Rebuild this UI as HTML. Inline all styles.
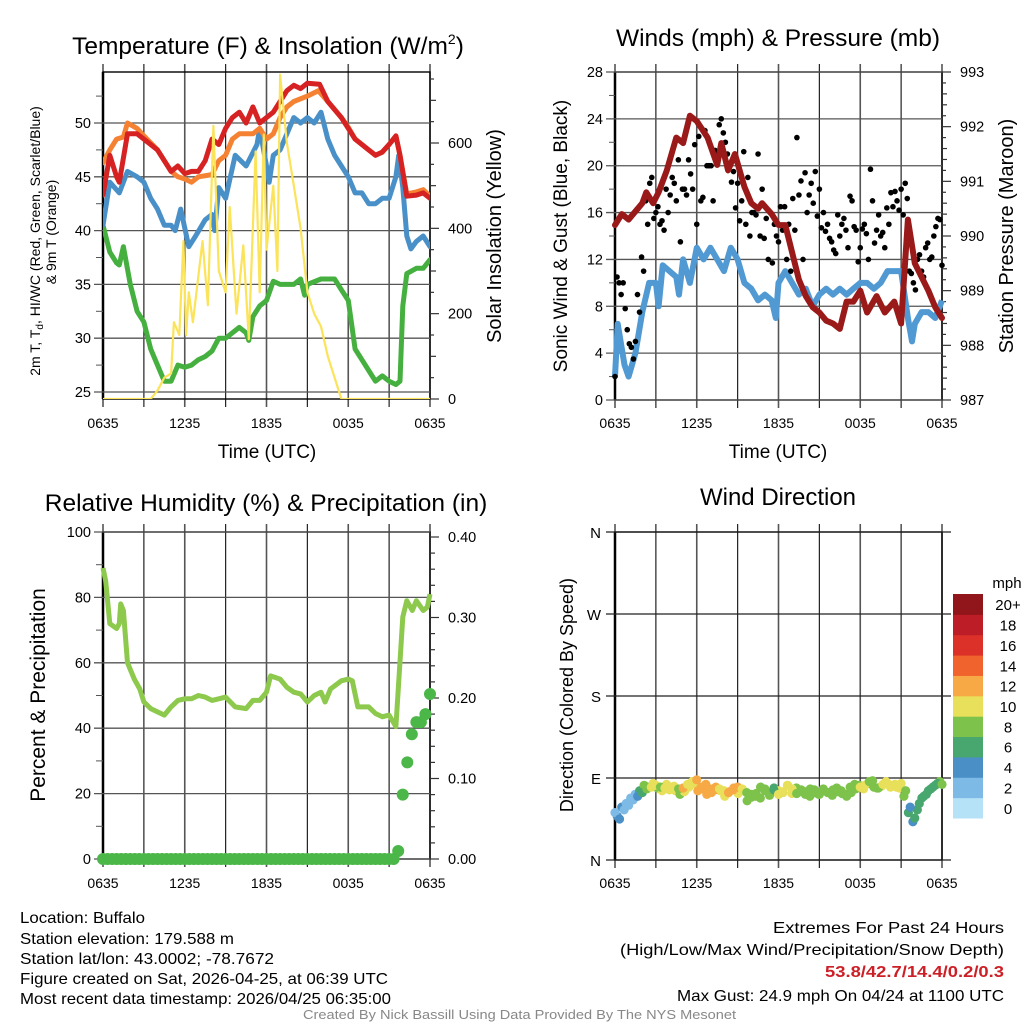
<!DOCTYPE html>
<html><head><meta charset="utf-8"><style>
html,body{margin:0;padding:0;background:#fff;}
svg{display:block;font-family:"Liberation Sans",sans-serif;}
</style></head><body>
<svg id="fig" width="1024" height="1024" viewBox="0 0 1024 1024">
<g id="layer"></g>
</svg>
<script>
// ---------- DATA ----------
const timeTicks = ["0635","1235","1835","0035","0635"];
// Temperature panel
const redH = [0,0.5,1,1.2,1.8,2.5,3,4,4.5,5,5.5,6,6.5,7,7.5,8,8.5,9,9.5,10,10.5,11,11.5,12,12.5,13,13.5,14,14.5,15,15.9,16.5,17.5,18,18.5,19.5,20,20.5,21,21.5,21.8,22.3,23,23.5,24];
const redV = [43.3,47,45,44.5,49,49,48.5,47.5,46.5,45.5,46,45.3,45.5,45.5,46.5,48.5,48,49.5,50.5,51,50,51.5,50,50.5,51,52,53,53.5,53.2,53.7,53.6,52,50.5,49.5,48.5,47.5,47,47.3,48,48.8,47,43.2,43.3,43.5,43];
const oraH = [0,0.5,1,1.5,1.8,2.5,3,4,5,5.5,6,6.5,7,8,8.5,9,9.5,10,11,11.5,12,12.5,13,13.5,14,15,15.8,16.5,17.5,18,18.5,19.5,20,20.5,21,21.5,21.8,22.3,23,23.5,24];
const oraV = [46.3,47.5,48.5,48.7,50,49.5,48.8,47.5,45.5,45,44.8,44.5,45,45.2,46.5,47,48.5,49,49,49.5,48.5,49,50.5,51.5,52,52.5,53,52,50.5,49.6,48.5,47.5,47,47.3,48,48.8,47,43.4,43.6,43.8,43.2];
const bluH = [0,0.5,1.2,1.8,2.5,3,3.5,4,4.5,5,5.3,5.7,6.3,6.8,7.5,8,8.2,8.5,9,9.7,10.5,11.3,11.5,12,12.2,12.5,13,13.5,14,14.5,15,15.5,16,16.5,17,17.5,18,18.5,19,19.5,20,20.5,21,21.5,21.7,22,22.3,22.6,23,23.5,24];
const bluV = [40.5,44.5,43.5,45.5,45,44.5,43,42,40.5,40.5,40,42,38.5,39.5,41,41.5,40,44,43,47,46,48,49.5,46,44.5,47,47.5,49,50.5,50,50.5,50,51,48.5,47,46,45,43.5,43.5,42.5,42.5,43,43,45,47,44,39.5,38.3,39,39.5,38.5];
const grnH = [0,0.5,1,1.2,1.5,2,2.5,3,3.5,4,4.5,5,5.5,6,6.5,7,7.5,8,8.5,9,9.5,10,10.5,10.7,11,11.5,12,12.5,13,14,14.5,14.8,15,16,17,17.5,18,18.5,19,19.5,20,20.5,21,21.5,21.8,22,22.3,23,23.5,24];
const grnV = [40.5,38,37,36.8,38.5,35,32.5,31.5,29,27.5,26,26,27.5,27.3,27.5,28,28.3,28.8,30,30,30.5,31,30.5,29.8,32,33,33.5,35.3,35,35,35.5,34,35,35.5,35.5,34.5,33.5,29,28,27,26,26.5,26,25.7,26,33,36,36.5,36.5,37.3];
const solH = [0,3.5,4,4.5,5,5.2,5.6,5.9,6.1,6.3,6.6,7.3,7.7,8.1,8.5,9,9.3,9.8,10.3,10.7,11.2,11.5,11.8,12,12.5,12.8,13,13.5,14,14.5,15,15.5,16,16.5,17,17.5,24];
const solV = [0,0,20,50,60,180,150,370,150,250,180,370,220,640,300,250,450,200,360,140,580,250,620,350,500,300,760,600,500,400,250,200,170,100,50,0,0];
const tempTicks = [25,30,35,40,45,50];
const solTicks = [0,200,400,600];
// Wind panel
const windH = [0,0.2,0.7,1,1.5,2,2.5,3,3.2,3.5,4,4.5,4.7,5,5.5,6,6.5,7,7.5,8,8.5,9,9.5,10,10.5,11,11.5,11.8,12,12.5,13,13.5,14,14.5,15,15.5,16,16.5,17,17.5,18,18.5,19,19.5,20,20.5,21,21.5,21.8,22,22.5,23,23.5,24];
const windV = [2,6.5,3,2,4,7.5,10,10,8,11.5,11,10.5,9,12,10,13,12,13,12,11,13,12,10,9.5,8.5,9,8.5,7,10,11,10,9,9.5,8,9,9.5,9,9.5,9,9.5,10,10,9.5,10,11,11,11,7,5,6.5,7.5,7.5,7,8.5];
const presH = [0,0.5,1,2,2.3,2.8,3.2,3.8,4.5,5,5.5,6,6.8,7.5,7.8,8.3,8.8,9.5,10,10.5,10.8,11.5,12,12.5,13,13.5,14,14.5,15,15.5,16,16.5,17,17.5,18,18.5,19.2,19.8,20.5,21,21.5,22,23,23.5,24];
const presV = [990.2,990.4,990.3,990.6,990.8,990.6,990.8,991.2,991.8,991.7,992.2,992.1,991.8,991.3,991.7,991.2,991.5,990.9,990.6,990.5,990.6,990.4,990.2,990.2,989.7,989.2,988.9,988.7,988.6,988.45,988.4,988.3,988.8,988.8,989.0,988.6,988.9,988.6,988.8,988.4,990.3,989.5,989.0,988.7,988.5];
const gustV = [2,10,10,6,4.5,5,7.5,11,15,19,16,15,14.5,16,19,17,13.5,18,20.5,18,15,17,23,20,17,21,24,22,20,19.5,18.5,17,15,14,16,21,18,15.5,16,15,13.5,14.5,12,11,14.5,17.5,12,16,18.5,19.5,18,16,15,13.5,12.5,14,15.5,13,17,14.5,13,15,12,17,14.5,14,13,15,16.5,17,18,18.5,11,10,12,11,13,12,14,15.5,11.5];
const gustV2 = [10.5,9,7.8,4.8,3.5,9,12.2,17,18.5,15.5,16.5,15.3,18,17.5,18.5,20.5,18,17.5,19.3,21.8,22.5,17.3,20,20,21.3,23.5,22.8,21,18.6,16.4,15.3,21.2,19,16,15.8,14,13.8,12,11.7,14,16.5,16.5,15,17.2,22.4,18.7,19.4,17.5,16.8,15.7,14.7,14.4,13.8,12.8,15.8,15,14.5,17.4,14.8,11.8,14.6,14.2,19.7,13.4,15.8,14.3,16.4,17.7,17.8,16.2,15.8,17.2,10.8,9.4,12.4,10.5,13.4,12.2,14.8,15.4];
const windTicks = [0,4,8,12,16,20,24,28];
const presTicks = [987,988,989,990,991,992,993];
// RH panel
const rhH = [0,0.2,0.5,1,1.2,1.3,1.5,1.8,2.3,2.7,3,3.5,4,4.5,5,5.5,6,6.5,7,7.5,8,8.5,9,9.7,10.5,11,11.5,12,12.3,13,13.5,14,14.5,15,15.5,16,16.3,16.7,17.5,18,18.3,18.7,19.5,20,20.5,21,21.5,22,22.3,22.7,23,23.5,23.8,24];
const rhV = [89,85,72,70.5,72,78,76,60,55,52,48,46,45,44,46.5,48.5,49,49,50,49.5,48.5,49,49.5,46.5,46,48.5,48.5,51,56,55,52.5,51,50.5,48,50,51,48,52,54.5,55,54.5,46.5,46.5,44.5,43.5,44,40.5,74,79,76,79,76,77,81];
const precipV = [0,0,0,0,0,0,0,0,0,0,0,0,0,0,0,0,0,0,0,0,0,0,0,0,0,0,0,0,0,0,0,0,0,0,0,0,0,0,0,0,0,0,0,0,0,0,0,0,0,0,0,0,0,0,0,0,0,0,0,0,0,0,0,0,0,0.01,0.08,0.12,0.155,0.17,0.17,0.18,0.205];
const rhTicks = [0,20,40,60,80,100];
const prTicks = ["0.00","0.10","0.20","0.30","0.40"];
// Direction panel
const dirV = [52,45,55,60,66,70,74,78,80,82,80,79,77,81,78,79,83,86,88,80,83,78,77,78,76,74,77,80,78,74,72,70,68,78,73,77,72,75,82,78,73,77,75,78,74,72,76,74,77,75,73,70,74,78,80,82,86,80,79,83,84,82,80,84,76,58,46,62,70,76,80,84,83];
const dirV2 = [48,58,62,68,72,76,82,80,84,79,76,83,80,76,72,75,80,84,76,78,72,74,80,76,70,75,79,73,77,65,69,73,80,76,71,79,76,74,82,73,79,75,72,70,77,72,78,74,71,79,76,72,80,83,82,78,84,87,79,81,86,80,83,79,70,52,42,55,68,72,78,82,86];
const dirTicks = ["N","E","S","W","N"];
const cbLabels = ["0","2","4","6","8","10","12","14","16","18","20+"];
const cbColors = ["#b5e2f7","#7dbbe6","#4a8fc6","#48a66f","#7dc24a","#e8e05a","#f6a944","#f1632c","#dc3128","#bc1d26","#91161b"];

// ---------- HELPERS ----------
const NS="http://www.w3.org/2000/svg";
const root=document.getElementById('layer');
function mk(tag,attrs,parent){const e=document.createElementNS(NS,tag);for(const k in attrs)e.setAttribute(k,attrs[k]);(parent||root).appendChild(e);return e;}
function txt(s,attrs,parent){const e=mk('text',attrs,parent);e.textContent=s;return e;}
function lin(d0,d1,r0,r1){return v=>r0+(v-d0)/(d1-d0)*(r1-r0);}
function interp(H,V,h){for(let i=1;i<H.length;i++){if(h<=H[i]){const t=(h-H[i-1])/(H[i]-H[i-1]);return V[i-1]+t*(V[i]-V[i-1]);}}return V[V.length-1];}
function pathOf(H,V,sx,sy){return H.map((h,i)=>(i?'L':'M')+sx(h).toFixed(1)+','+sy(V[i]).toFixed(1)).join('');}

function frame(x0,y0,x1,y1,name,g){
  for(let k=0;k<=8;k++){const x=x0+k*(x1-x0)/8;
    const l=mk('line',{x1:x,y1:y0-8,x2:x,y2:y1+8,stroke:k%2?'#222':'#555','stroke-width':k%2?1.2:1.6},g);
    }
  const r=mk('rect',{x:x0,y:y0,width:x1-x0,height:y1-y0,fill:'none',stroke:'#000','stroke-width':1.4},g);
  
  mk('line',{x1:x0,y1:y0,x2:x0,y2:y1,stroke:'#000','stroke-width':2.5},g);
}
function xLabels(x0,x1,y,g){timeTicks.forEach((t,i)=>{const e=txt(t,{x:x0+i*(x1-x0)/4,y:y,'font-size':14,'text-anchor':'middle'},g);
  });}
function hgrid(x0,x1,y,g,labelTxt,dark){const l=mk('line',{x1:x0-9,y1:y,x2:x1,y2:y,stroke:dark?'#222':'#555','stroke-width':1.3},g);
  
  const e=txt(labelTxt,{x:x0-12,y:y+5,'font-size':14.5,'text-anchor':'end'},g);
  }
function rtick(x1,y,g,labelTxt,len){mk('line',{x1:x1,y1:y,x2:x1+(len||9),y2:y,stroke:'#333','stroke-width':1.2},g);
  if(labelTxt!==null){const e=txt(labelTxt,{x:x1+18,y:y+5,'font-size':14.5},g);
  }}
function vtitle(s,x,y,size,g,name){const e=txt(s,{x:x,y:y,'font-size':size,'text-anchor':'middle',transform:`rotate(-90 ${x} ${y})`},g);
  return e;}

// ---------- PANEL 1: TEMPERATURE ----------
(function(){
const g=mk('g',{});
const x0=103,x1=430,y0=72,y1=399;
const sx=lin(0,24,x0,x1), sy=lin(25,50,392,123), sr=lin(0,600,399,143);
const t=txt('',{x:268,y:54,'font-size':24.5,'text-anchor':'middle'},g);

t.textContent='Temperature (F) & Insolation (W/m';
const sup=mk('tspan',{'font-size':14,dy:-10},t);sup.textContent='2';
const cl=mk('tspan',{dy:10},t);cl.textContent=')';
frame(x0,y0,x1,y1,'temperature',g);
tempTicks.forEach(v=>hgrid(x0,x1,sy(v),g,String(v),false));
tempTicks.forEach(v=>{mk('line',{x1:x0-7,y1:sy(v+2.5),x2:x0,y2:sy(v+2.5),stroke:'#555'},g);});
solTicks.forEach(v=>rtick(x1,sr(v),g,String(v)));
[100,300,500,700].forEach(v=>rtick(x1,sr(v),g,null,6));
[50,150,250,350,450,550,650,750].forEach(v=>rtick(x1,sr(v),g,null,4));
xLabels(x0,x1,428,g);
const xt=txt('Time (UTC)',{x:267,y:458,'font-size':19,'text-anchor':'middle'},g);

const yt=vtitle('',40,241,14,g,'y-axis-title');
yt.textContent='2m T, T';const sb=mk('tspan',{'font-size':10,dy:3},yt);sb.textContent='d';
const rest=mk('tspan',{dy:-3},yt);rest.textContent=', HI/WC (Red, Green, Scarlet/Blue)';
vtitle('& 9m T (Orange)',56,232,14,g,'y-axis-title-line2');
vtitle('Solar Insolation (Yellow)',501,236,20,g,'right-axis-title');
const cp=mk('clipPath',{id:'c1'},g);mk('rect',{x:x0,y:y0-4,width:x1-x0,height:y1-y0+4},cp);
const pg=mk('g',{'clip-path':'url(#c1)'},g);
function series(H,V,scale,col,w,name){const p=mk('path',{d:pathOf(H,V,sx,scale),fill:'none',stroke:col,'stroke-width':w,'stroke-linejoin':'round','stroke-linecap':'round'},pg);
  }
series(grnH,grnV,sy,'#45b03f',5,'dewpoint-line');
series(bluH,bluV,sy,'#4a90c8',5,'windchill-line');
series(oraH,oraV,sy,'#f58232',5,'temp-9m-line');
series(redH,redV,sy,'#d62222',5,'temp-2m-line');
series(solH,solV,sr,'#fbe35a',2.2,'insolation-line');
})();

// ---------- PANEL 2: WIND ----------
(function(){
const g=mk('g',{});
const x0=615,x1=942,y0=72,y1=400;
const sx=lin(0,24,x0,x1), sy=lin(0,28,y1,y0), sp=lin(987,993,y1,y0);
const t=txt('Winds (mph) & Pressure (mb)',{x:778,y:46,'font-size':24.5,'text-anchor':'middle'},g);

frame(x0,y0,x1,y1,'wind',g);
windTicks.forEach(v=>hgrid(x0,x1,sy(v),g,String(v),false));
windTicks.forEach(v=>{if(v<28)mk('line',{x1:x0-6,y1:sy(v+2),x2:x0,y2:sy(v+2),stroke:'#555'},g);});
presTicks.forEach(v=>rtick(x1,sp(v),g,String(v)));
presTicks.forEach(v=>{if(v<993)for(let k=1;k<5;k++)rtick(x1,sp(v+k*0.2),g,null,k==2||k==3?5:4);});
xLabels(x0,x1,428,g);
const xt=txt('Time (UTC)',{x:778,y:458,'font-size':19,'text-anchor':'middle'},g);

vtitle('Sonic Wind & Gust (Blue, Black)',567,236,19,g,'y-axis-title');
vtitle('Station Pressure (Maroon)',1013,236,20,g,'right-axis-title');
const p=mk('path',{d:pathOf(windH,windV,sx,sy),fill:'none',stroke:'#5199d3','stroke-width':6,'stroke-linejoin':'round'},g);

gustV.forEach((v,i)=>{const c=mk('circle',{cx:sx(i*24/(gustV.length-1)),cy:sy(v),r:2.8,fill:'#000'},g);
  });
gustV2.forEach((v,i)=>{const c=mk('circle',{cx:sx((i+0.5)*24/gustV2.length),cy:sy(v),r:2.8,fill:'#000'},g);
  });
const pp=mk('path',{d:pathOf(presH,presV,sx,sp),fill:'none',stroke:'#9a1a1a','stroke-width':6,'stroke-linejoin':'round','stroke-linecap':'round'},g);

})();

// ---------- PANEL 3: RH ----------
(function(){
const g=mk('g',{});
const x0=103,x1=430,y0=532,y1=859;
const sx=lin(0,24,x0,x1), sy=lin(0,100,y1,y0), sq=lin(0,0.4,y1,537);
const t=txt('Relative Humidity (%) & Precipitation (in)',{x:266,y:511,'font-size':24.5,'text-anchor':'middle'},g);

frame(x0,y0,x1,y1,'humidity',g);
rhTicks.forEach(v=>hgrid(x0,x1,sy(v),g,String(v),false));
rhTicks.forEach(v=>{if(v<100)mk('line',{x1:x0-7,y1:sy(v+10),x2:x0,y2:sy(v+10),stroke:'#555'},g);});
prTicks.forEach(s=>rtick(x1,sq(parseFloat(s)),g,s));
prTicks.forEach(s=>{const v=parseFloat(s);if(v<0.4)for(let k=1;k<5;k++)rtick(x1,sq(v+k*0.02),g,null,5);});
xLabels(x0,x1,888,g);
vtitle('Percent & Precipitation',45,695,21,g,'y-axis-title');
const p=mk('path',{d:pathOf(rhH,rhV,sx,sy),fill:'none',stroke:'#8dc94c','stroke-width':5,'stroke-linejoin':'round'},g);

precipV.forEach((v,i)=>{const c=mk('circle',{cx:sx(i*24/(precipV.length-1)),cy:sq(v),r:6,fill:'#4bb748'},g);
  });
})();

// ---------- PANEL 4: DIRECTION ----------
(function(){
const g=mk('g',{});
const x0=615,x1=942,y0=532,y1=860;
const sx=lin(0,24,x0,x1), sd=lin(0,360,y1,y0);
const t=txt('Wind Direction',{x:778,y:505,'font-size':24,'text-anchor':'middle'},g);

frame(x0,y0,x1,y1,'direction',g);
dirTicks.forEach((s,i)=>{const y=sd(i*90);const l=mk('line',{x1:x0-9,y1:y,x2:x1+9,y2:y,stroke:'#222','stroke-width':1.3},g);
  
  const e=txt(s,{x:x0-14,y:y+6,'font-size':15,'text-anchor':'end'},g);
  });
xLabels(x0,x1,888,g);
vtitle('Direction (Colored By Speed)',573,695,18,g,'y-axis-title');
function dot(h,v){const spd=interp(windH,windV,h);
  const bi=Math.min(10,Math.max(0,Math.floor(spd/2)));
  const c=mk('circle',{cx:sx(h),cy:sd(v),r:4.6,fill:cbColors[bi]},g);
  }
dirV2.forEach((v,i)=>dot((i+0.5)*24/dirV2.length,v));
dirV.forEach((v,i)=>dot(i*24/(dirV.length-1),v));
const cb=mk('g',{},g);
const bx=953,bw=30,btop=594,bbot=818,bh=(bbot-btop)/cbColors.length;
cbColors.forEach((c,i)=>{const y=bbot-(i+1)*bh;const r=mk('rect',{x:bx,y:y,width:bw,height:bh+0.5,fill:c},cb);
  
  const e=txt(cbLabels[i],{x:1008,y:y+bh/2+6,'font-size':15,'text-anchor':'middle'},cb);
  });
const u=txt('mph',{x:1007,y:588,'font-size':15,'text-anchor':'middle'},cb);

})();

// ---------- FOOTER ----------
(function(){
const g=mk('g',{});
const left=[["Location: Buffalo",923,125],["Station elevation: 179.588 m",944,214],["Station lat/lon: 43.0002; -78.7672",964,254],["Figure created on Sat, 2026-04-25, at 06:39 UTC",984,368],["Most recent data timestamp: 2026/04/25 06:35:00",1004,371]];
left.forEach(a=>{const e=txt(a[0],{x:20,y:a[1],'font-size':16,textLength:a[2],lengthAdjust:'spacingAndGlyphs'},g);
  });
const right=[["Extremes For Past 24 Hours",933,231,'#000','normal'],["(High/Low/Max Wind/Precipitation/Snow Depth)",955,384,'#000','normal'],["53.8/42.7/14.4/0.2/0.3",977,179,'#cc2027','bold'],["Max Gust: 24.9 mph On 04/24 at 1100 UTC",1001,327,'#000','normal']];
right.forEach(a=>{const e=txt(a[0],{x:1004-a[2],y:a[1],'font-size':16,fill:a[3],'font-weight':a[4],textLength:a[2],lengthAdjust:'spacingAndGlyphs'},g);
  });
const c=txt('Created By Nick Bassill Using Data Provided By The NYS Mesonet',{x:303,y:1019,'font-size':13,fill:'#888',textLength:433,lengthAdjust:'spacingAndGlyphs'},g);

})();
</script>
</body></html>
